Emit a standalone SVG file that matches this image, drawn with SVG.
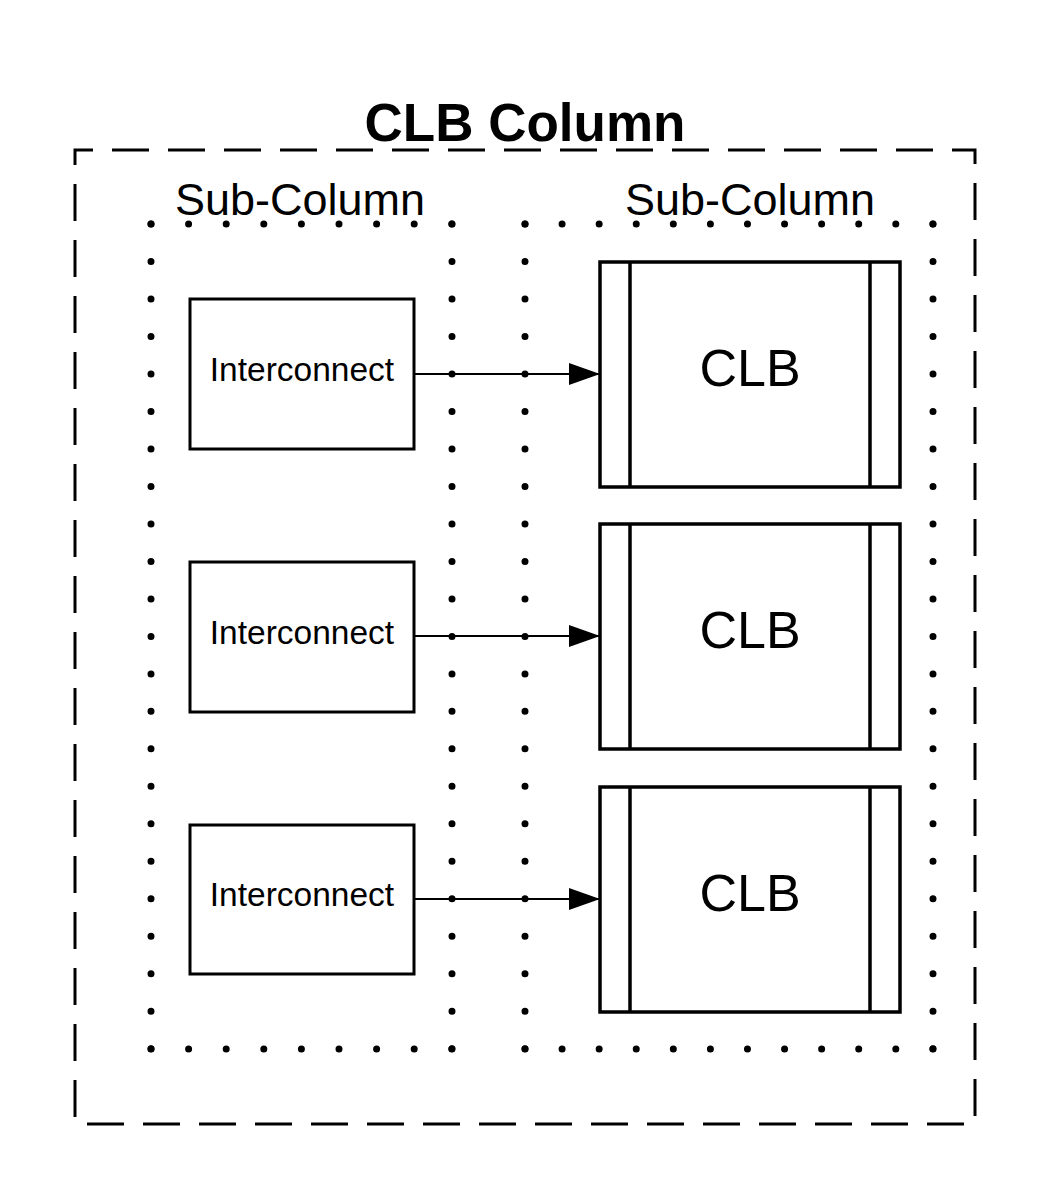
<svg xmlns="http://www.w3.org/2000/svg" width="1050" height="1200" viewBox="0 0 1050 1200">
<defs>
<style>
.outer{fill:none;stroke:#000;stroke-width:3;stroke-dasharray:37 19;stroke-dashoffset:19}
.dots{fill:none;stroke:#000;stroke-width:7;stroke-linecap:round}
.box{fill:#fff;stroke:#000;stroke-width:3}
.clb{fill:#fff;stroke:#000;stroke-width:3.5}
.t{font-family:"Liberation Sans",Arial,sans-serif;fill:#000;text-anchor:middle}
.edge{stroke:#000;stroke-width:2;fill:none}
</style>
<marker id="arr" viewBox="0 0 31 22" refX="31" refY="11" markerWidth="31" markerHeight="22" markerUnits="userSpaceOnUse" orient="auto">
<path d="M0,0 L31,11 L0,22 Z" fill="#000"/>
</marker>
</defs>
<rect width="1050" height="1200" fill="#fff"/>
<g id="clb-column">
<rect class="outer" x="75" y="150" width="900" height="974"/>
<text class="t" x="525" y="141" font-size="53" font-weight="bold">CLB Column</text>
</g>
<g id="subcolumn-left">
<path class="dots" d="M151,224 H452.2 M151,1049 H452.2" stroke-dasharray="0 37.6"/>
<path class="dots" d="M151,224 V1049.2 M452,224 V1049.2" stroke-dasharray="0 37.49"/>
<text class="t" x="300" y="215" font-size="45" stroke="#fff" stroke-width="8" paint-order="stroke">Sub-Column</text>
</g>
<g id="subcolumn-right">
<path class="dots" d="M525,224 H933.2 M525,1049 H933.2" stroke-dasharray="0 37.08"/>
<path class="dots" d="M525,224 V1049.2 M933,224 V1049.2" stroke-dasharray="0 37.49"/>
<text class="t" x="750" y="215" font-size="45" stroke="#fff" stroke-width="8" paint-order="stroke">Sub-Column</text>
</g>
<g id="connectors">
<line class="edge" x1="415" y1="374" x2="600" y2="374" marker-end="url(#arr)"/>
<line class="edge" x1="415" y1="636" x2="600" y2="636" marker-end="url(#arr)" stroke-width="2.5"/>
<line class="edge" x1="415" y1="899" x2="600" y2="899" marker-end="url(#arr)"/>
</g>
<g id="interconnect-1">
<rect class="box" x="190" y="299" width="224" height="150"/>
<text class="t" x="302" y="381" font-size="33.5">Interconnect</text>
</g>
<g id="interconnect-2">
<rect class="box" x="190" y="562" width="224" height="150"/>
<text class="t" x="302" y="644" font-size="33.5">Interconnect</text>
</g>
<g id="interconnect-3">
<rect class="box" x="190" y="825" width="224" height="149"/>
<text class="t" x="302" y="906" font-size="33.5">Interconnect</text>
</g>
<g id="clb-1">
<rect class="clb" x="600" y="262" width="300" height="225"/>
<path class="clb" d="M630,262 V487 M870,262 V487"/>
<text class="t" x="750" y="386" font-size="52">CLB</text>
</g>
<g id="clb-2">
<rect class="clb" x="600" y="524" width="300" height="225"/>
<path class="clb" d="M630,524 V749 M870,524 V749"/>
<text class="t" x="750" y="648" font-size="52">CLB</text>
</g>
<g id="clb-3">
<rect class="clb" x="600" y="787" width="300" height="225"/>
<path class="clb" d="M630,787 V1012 M870,787 V1012"/>
<text class="t" x="750" y="911" font-size="52">CLB</text>
</g>
</svg>
